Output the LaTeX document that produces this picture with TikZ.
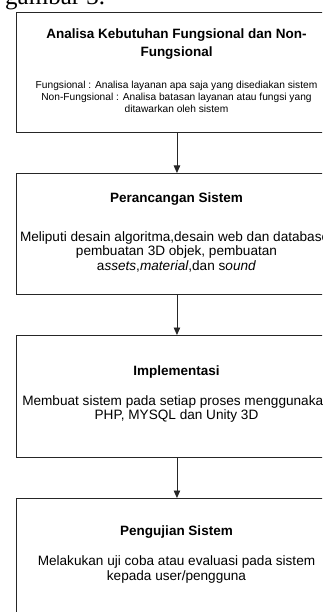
\documentclass[tikz,border=0pt]{standalone}
\usepackage{fontspec}
\setmainfont{Liberation Sans}
\newfontfamily\timesf{Liberation Serif}
\usetikzlibrary{arrows.meta}
\begin{document}
\begin{tikzpicture}[x=1pt,y=-1pt,
  box/.style={draw=black!85, line width=0.9pt, rectangle, minimum width=322pt, minimum height=#1, anchor=north west, inner sep=0pt},
  ttl/.style={font=\fontsize{13.5}{18}\selectfont\bfseries, align=center, inner sep=0pt},
  txt/.style={font=\fontsize{13.6}{14.5}\selectfont, align=center, inner sep=0pt},
  small/.style={font=\fontsize{10.2}{11.7}\selectfont, align=center, inner sep=0pt},
  conn/.style={draw=black!85, line width=0.9pt, -{Triangle[width=6.5pt,length=7.5pt]}}]
\useasboundingbox (0,0) rectangle (322,612);
\clip (0,0) rectangle (322,612);
\node[font=\timesf\fontsize{25}{25}\selectfont, anchor=base west, inner sep=0pt] (cap) at (5,5) {gambar 3.};
% boxes
\node[box=120pt] (b1) at (15.5,12) {};
\node[box=121pt] (b2) at (15.5,173) {};
\node[box=122pt] (b3) at (15.5,335) {};
\node[box=122pt] (b4) at (15.5,498) {};
% box 1 text
\node[ttl] (t1) at (176.5,44) {Analisa Kebutuhan Fungsional dan Non-\\Fungsional};
\node[small] (d1) at (176.5,96.7) {Fungsional : Analisa layanan apa saja yang disediakan sistem\\Non-Fungsional : Analisa batasan layanan atau fungsi yang\\ditawarkan oleh sistem};
% box 2 text
\node[ttl] (t2) at (176.5,199.3) {Perancangan Sistem};
\node[txt] (d2) at (176.5,251.7) {Meliputi desain algoritma,desain web dan database,\\pembuatan 3D objek, pembuatan\\a\textit{ssets},\textit{material},dan s\textit{ound}};
% box 3 text
\node[ttl] (t3) at (176.5,371.7) {Implementasi};
\node[txt] (d3) at (176.5,409.2) {Membuat sistem pada setiap proses menggunakan\\PHP, MYSQL dan Unity 3D};
% box 4 text
\node[ttl] (t4) at (176.5,532.5) {Pengujian Sistem};
\node[txt] (d4) at (176.5,569.5) {Melakukan uji coba atau evaluasi pada sistem\\kepada user/pengguna};
% connectors
\draw[conn] (b1.south) -- (b2.north);
\draw[conn] (b2.south) -- (b3.north);
\draw[conn] (b3.south) -- (b4.north);
\end{tikzpicture}
\end{document}
